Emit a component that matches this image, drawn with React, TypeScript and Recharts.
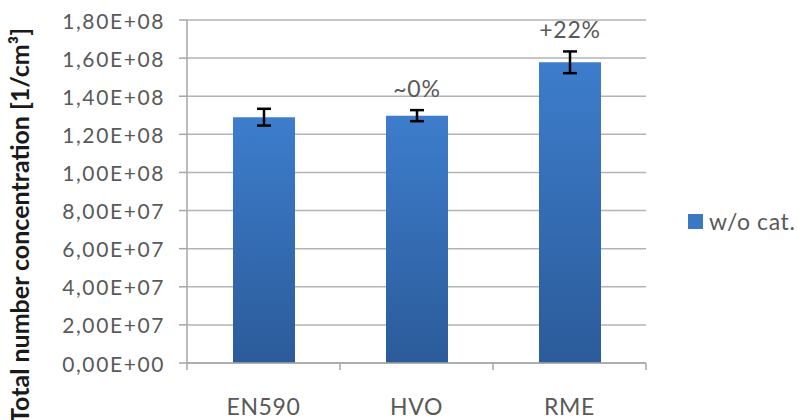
import React from "react";
import { BarChart, Bar, XAxis, YAxis, CartesianGrid, ErrorBar, LabelList, Legend } from "recharts";

const categories = ["EN590", "HVO", "RME"];
const values = [1.29e8, 1.298e8, 1.578e8];
const errors = [4.4e6, 2.9e6, 5.7e6];
const annotations = ["", "~0%", "+22%"];
const seriesName = "w/o cat.";
const yTicks = [0, 2e7, 4e7, 6e7, 8e7, 1e8, 1.2e8, 1.4e8, 1.6e8, 1.8e8];
const yTickLabels = ["0,00E+00", "2,00E+07", "4,00E+07", "6,00E+07", "8,00E+07", "1,00E+08", "1,20E+08", "1,40E+08", "1,60E+08", "1,80E+08"];
const yAxisTitle = "Total number concentration [1/cm³]";

const data = categories.map((c, i) => ({ name: c, value: values[i], err: errors[i], note: annotations[i] }));

const FONT = "Lato, 'Open Sans', sans-serif";
const TICK_COLOR = "#595959";
const AXIS_COLOR = "#a6a6a6";

const XTick = (props: any) => {
  const { x, y, payload, index, visibleTicksCount } = props;
  const off = payload.offset ?? 0;
  const isLast = index === (visibleTicksCount ?? categories.length) - 1;
  return (
    <g>
      <line x1={x - off} x2={x - off} y1={y} y2={y + 7} stroke={AXIS_COLOR} strokeWidth={1.5} />
      {isLast && <line x1={x + off} x2={x + off} y1={y} y2={y + 7} stroke={AXIS_COLOR} strokeWidth={1.5} />}
      <text x={x} y={y + 43} textAnchor="middle" dominantBaseline="central" fill={TICK_COLOR} fontSize={23} letterSpacing={0.6} fontFamily={FONT}>
        {payload.value}
      </text>
    </g>
  );
};

const YTick = (props: any) => {
  const { x, y, payload } = props;
  const label = yTickLabels[yTicks.indexOf(payload.value)] ?? String(payload.value);
  return (
    <text x={x} y={y} textAnchor="end" dominantBaseline="central" fill={TICK_COLOR} fontSize={21} letterSpacing={1.6} fontFamily={FONT}>
      {label}
    </text>
  );
};

const NoteLabel = (props: any) => {
  const { x, y, width, height, index } = props;
  const d = data[index];
  if (!d || !d.note) return null;
  const pxPerUnit = height / d.value;
  const top = y - d.err * pxPerUnit;
  return (
    <text x={x + width / 2} y={top - 22} textAnchor="middle" dominantBaseline="central" fill={TICK_COLOR} fontSize={23} letterSpacing={0.8} fontFamily={FONT}>
      {d.note}
    </text>
  );
};

const YTitle = () => (
  <text
    x={19}
    y={28}
    transform="rotate(-90, 19, 28)"
    textAnchor="end"
    dominantBaseline="central"
    fill="#1a1a1a"
    fontSize={25}
    fontWeight="bold"
    fontFamily={FONT}
  >
    {yAxisTitle}
  </text>
);

const LegendContent = () => (
  <div style={{ display: "flex", alignItems: "center", fontFamily: FONT, fontSize: 23, letterSpacing: 0.6, color: TICK_COLOR, whiteSpace: "nowrap" }}>
    <div style={{ width: 15, height: 15, background: "#3a78c4", marginRight: 6 }} />
    <span>{seriesName}</span>
  </div>
);

export default function App() {
  return (
    <div style={{ position: "fixed", left: 0, top: 0, width: 797, height: 420, background: "#fff", overflow: "hidden" }}>
      <BarChart width={797} height={420} data={data} margin={{ top: 20, right: 151, bottom: 0, left: 0 }}>
        <defs>
          <linearGradient id="barGrad" x1="0" y1="0" x2="0" y2="1">
            <stop offset="0%" stopColor="#3d7dcc" />
            <stop offset="100%" stopColor="#2b5b9a" />
          </linearGradient>
        </defs>
        <CartesianGrid vertical={false} stroke="#b3b3b3" strokeWidth={1.5} />
        <XAxis
          dataKey="name"
          tick={<XTick />}
          tickLine={false}
          tickSize={0}
          tickMargin={0}
          height={57}
          axisLine={{ stroke: AXIS_COLOR, strokeWidth: 1.5 }}
          interval={0}
        />
        <YAxis
          domain={[0, 1.8e8]}
          ticks={yTicks}
          interval={0}
          width={187}
          tickSize={8}
          tickMargin={14}
          tickLine={{ stroke: AXIS_COLOR, strokeWidth: 1.5 }}
          axisLine={{ stroke: AXIS_COLOR, strokeWidth: 1.5 }}
          tick={<YTick />}
          label={<YTitle />}
        />
        <Legend
          verticalAlign="middle"
          align="center"
          layout="horizontal"
          content={<LegendContent />}
          wrapperStyle={{ position: "absolute", left: 688, top: 207, width: 120 }}
        />
        <Bar dataKey="value" name={seriesName} fill="url(#barGrad)" barSize={62} isAnimationActive={false}>
          <ErrorBar dataKey="err" width={7} stroke="#000" strokeWidth={2.5} direction="y" />
          <LabelList dataKey="value" content={<NoteLabel />} />
        </Bar>
      </BarChart>
    </div>
  );
}
